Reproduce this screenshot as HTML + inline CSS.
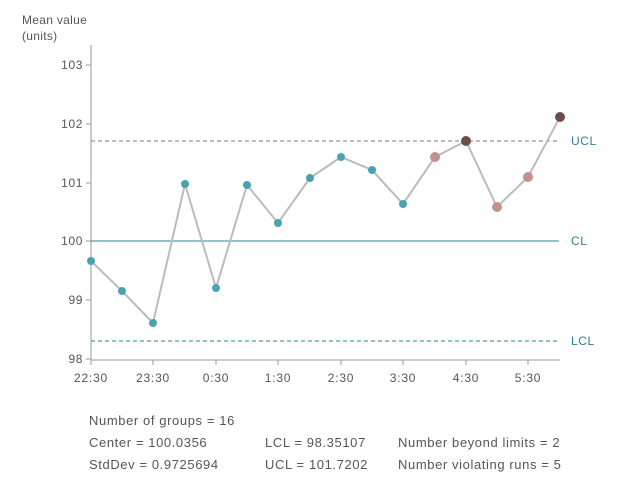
<!DOCTYPE html>
<html><head><style>body{margin:0;background:#fff}svg{display:block}text{font-family:"Liberation Sans",sans-serif;fill:#555}</style></head><body>
<svg width="640" height="485" viewBox="0 0 640 485">
<text x="22" y="24" font-size="12" letter-spacing="0.3">Mean value</text>
<text x="22" y="40" font-size="12" letter-spacing="0.3">(units)</text>
<line x1="91" y1="45" x2="91" y2="360" stroke="#999"/>
<line x1="91" y1="360" x2="560" y2="360" stroke="#999"/>
<g stroke="#999">
<line x1="86" y1="65" x2="91" y2="65"/><line x1="86" y1="124" x2="91" y2="124"/><line x1="86" y1="183" x2="91" y2="183"/><line x1="86" y1="241" x2="91" y2="241"/><line x1="86" y1="300" x2="91" y2="300"/><line x1="86" y1="359" x2="91" y2="359"/>
<line x1="91" y1="360" x2="91" y2="365"/><line x1="153" y1="360" x2="153" y2="365"/><line x1="216" y1="360" x2="216" y2="365"/><line x1="278" y1="360" x2="278" y2="365"/><line x1="341" y1="360" x2="341" y2="365"/><line x1="403" y1="360" x2="403" y2="365"/><line x1="466" y1="360" x2="466" y2="365"/><line x1="528" y1="360" x2="528" y2="365"/>
</g>
<g font-size="12" text-anchor="end" letter-spacing="0.6">
<text x="83" y="69">103</text><text x="83" y="128">102</text><text x="83" y="187">101</text><text x="83" y="245">100</text><text x="83" y="304">99</text><text x="83" y="363">98</text>
</g>
<g font-size="12" text-anchor="middle" letter-spacing="0.8">
<text x="91" y="382">22:30</text><text x="153" y="382">23:30</text><text x="216" y="382">0:30</text><text x="278" y="382">1:30</text><text x="341" y="382">2:30</text><text x="403" y="382">3:30</text><text x="466" y="382">4:30</text><text x="528" y="382">5:30</text>
</g>
<line x1="91" y1="141" x2="559" y2="141" stroke="#6a7f88" stroke-dasharray="4,3"/>
<line x1="91" y1="241" x2="559" y2="241" stroke="#2d7f95"/>
<line x1="91" y1="341" x2="559" y2="341" stroke="#2d7f95" stroke-dasharray="4,3"/>
<g font-size="12" letter-spacing="0.6"><text x="571" y="145" style="fill:#2d7f95">UCL</text><text x="571" y="245" style="fill:#2d7f95">CL</text><text x="571" y="345" style="fill:#2d7f95">LCL</text></g>
<polyline fill="none" stroke="#bbb" stroke-width="2" points="91,261 122,291 153,323 185,184 216,288 247,185 278,223 310,178 341,157 372,170 403,204 435,157 466,141 497,207 528,177 560,117"/>
<g fill="#4aa3b0">
<circle cx="91" cy="261" r="4"/><circle cx="122" cy="291" r="4"/><circle cx="153" cy="323" r="4"/><circle cx="185" cy="184" r="4"/><circle cx="216" cy="288" r="4"/><circle cx="247" cy="185" r="4"/><circle cx="278" cy="223" r="4"/><circle cx="310" cy="178" r="4"/><circle cx="341" cy="157" r="4"/><circle cx="372" cy="170" r="4"/><circle cx="403" cy="204" r="4"/>
</g>
<g fill="#c0938c"><circle cx="435" cy="157" r="5"/><circle cx="497" cy="207" r="5"/><circle cx="528" cy="177" r="5"/></g>
<g fill="#6b4e48"><circle cx="466" cy="141" r="5"/><circle cx="560" cy="117" r="5"/></g>
<g font-size="13" letter-spacing="0.6">
<text x="89" y="425">Number of groups = 16</text>
<text x="89" y="447">Center = 100.0356</text><text x="265" y="447">LCL = 98.35107</text><text x="398" y="447">Number beyond limits = 2</text>
<text x="89" y="469">StdDev = 0.9725694</text><text x="265" y="469">UCL = 101.7202</text><text x="398" y="469">Number violating runs = 5</text>
</g>
</svg>
</body></html>
